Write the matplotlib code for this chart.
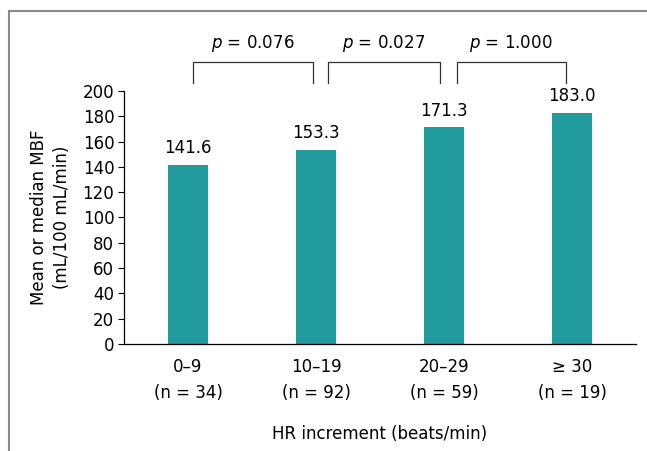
import matplotlib.pyplot as plt
from matplotlib.patches import Rectangle

groups = ['0\u20139\n(n = 34)', '10\u201319\n(n = 92)', '20\u201329\n(n = 59)', '\u2265 30\n(n = 19)']
mbf = [141.6, 153.3, 171.3, 183.0]
p_labels = ['0.076', '0.027', '1.000']
bracket_spans = [(0.04, 0.98), (1.09, 1.97), (2.10, 2.95)]

teal = '#229b9e'

plt.rcParams['font.family'] = ['DejaVu Sans']
fig = plt.figure(figsize=(6.47, 4.51), dpi=100)
ax = fig.add_axes([124 / 647, (451 - 344) / 451, (636 - 124) / 647, 253 / 451])

x = range(len(mbf))
ax.bar(x, mbf, width=0.32, color=teal)
for xi, v in zip(x, mbf):
    ax.text(xi, v + 6, f'{v:.1f}', ha='center', va='bottom', fontsize=12)

# brackets with p values
for (x0, x1), p in zip(bracket_spans, p_labels):
    ax.plot([x0, x0, x1, x1], [206, 223, 223, 206], color='#333333', lw=0.9, clip_on=False)
    ax.text((x0 + x1) / 2, 229, f'$p$ = {p}', ha='center', va='bottom', fontsize=12)

ax.set_xlim(-0.5, 3.5)
ax.set_ylim(0, 200)
ax.set_yticks(range(0, 201, 20))
ax.set_xticks(list(x))
ax.set_xticklabels(groups, fontsize=12, linespacing=1.6)
ax.tick_params(axis='y', labelsize=12, length=4, width=0.8, pad=3)
ax.tick_params(axis='x', length=0, pad=10)
for s in ['top', 'right']:
    ax.spines[s].set_visible(False)
for s in ['left', 'bottom']:
    ax.spines[s].set_linewidth(0.9)
ax.set_ylabel('Mean or median MBF\n(mL/100 mL/min)', fontsize=12, labelpad=8, linespacing=1.4)
ax.set_xlabel('HR increment (beats/min)', fontsize=12, labelpad=16)

# outer frame (left and top edges visible)
fig.patches.append(Rectangle((9 / 647, -0.1), 1.2, (451 - 11) / 451 + 0.1,
                             transform=fig.transFigure, fill=False,
                             edgecolor='#8a8a8a', lw=1.5))

fig.savefig('out.png', dpi=100)
